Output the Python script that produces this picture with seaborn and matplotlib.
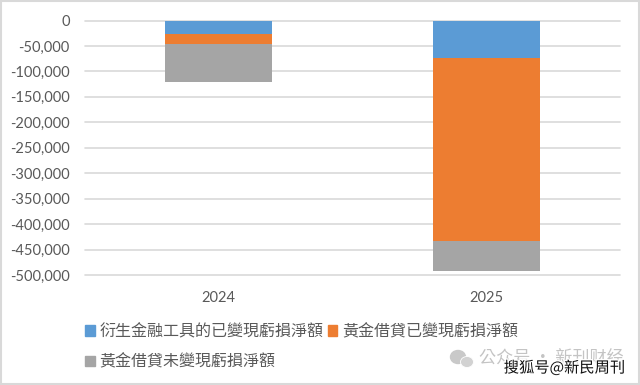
import matplotlib
matplotlib.use("Agg")
import matplotlib.pyplot as plt
from matplotlib.patches import Patch, Rectangle, Ellipse
from matplotlib import patheffects as pe
import numpy as np
import seaborn as sns

years = ["2024", "2025"]
derivative_loss = [-26000, -73000]
gold_realized = [-21000, -360000]
gold_unrealized = [-73000, -59000]
series_names = ["衍生金融工具的已變現虧損淨額", "黃金借貸已變現虧損淨額", "黃金借貸未變現虧損淨額"]
watermark_a = "公众号 · 新刊财经"
watermark_b = "搜狐号@新民周刊"
yticks = [0, -50000, -100000, -150000, -200000, -250000, -300000, -350000, -400000, -450000, -500000]

BLUE, ORANGE, GRAY = "#5B9BD5", "#ED7D31", "#A5A5A5"
TEXT = "#595959"
GRID = "#D9D9D9"

sns.set_theme(style="white")
plt.rcParams["font.family"] = ["Noto Sans CJK TC", "DejaVu Sans"]

W, H = 640, 385
fig = plt.figure(figsize=(W / 100, H / 100), dpi=100, facecolor="white")
ax = fig.add_axes([85 / W, 1 - 275 / H, 535 / W, 254.5 / H])

c1 = np.array(derivative_loss)
c2 = c1 + np.array(gold_realized)
c3 = c2 + np.array(gold_unrealized)

# Stacked bars: cumulative totals are painted from deepest to shallowest
for cum, col in zip([c3, c2, c1], [GRAY, ORANGE, BLUE]):
    sns.barplot(x=years, y=cum, color=col, width=0.4, saturation=1, ax=ax, zorder=3, linewidth=0)

ax.set_ylim(-500000, 0)
ax.set_xlim(-0.5, 1.5)
ax.set_yticks(yticks)
ax.set_yticklabels([f"{v:,}" for v in yticks], fontname="Lato", fontsize=10.5, color=TEXT)
ax.set_xticks([0, 1])
ax.set_xticklabels(years, fontname="Lato", fontsize=10.5, color=TEXT)
ax.tick_params(axis="both", length=0)
ax.tick_params(axis="y", pad=11)
ax.tick_params(axis="x", pad=11.5)
ax.set_xlabel("")
ax.set_ylabel("")
ax.grid(axis="y", color=GRID, linewidth=1.2, zorder=0, clip_on=False)
for line in ax.get_ygridlines():
    line.set_clip_on(False)
ax.set_axisbelow(True)
sns.despine(ax=ax, left=True, bottom=True, top=True, right=True)

handles = [Patch(color=BLUE), Patch(color=GRAY), Patch(color=ORANGE)]
labels = [series_names[0], series_names[2], series_names[1]]
fig.legend(handles, labels, ncols=2, frameon=False, loc="upper left",
           bbox_to_anchor=(82 / W, 1 - 320 / H), fontsize=11.5, labelcolor=TEXT,
           handlelength=0.6, handleheight=0.6, handletextpad=0.3,
           columnspacing=0.25, labelspacing=0.82, borderpad=0.2, borderaxespad=0)

# Watermarks
fig.text(479 / W, 1 - 359 / H, watermark_a, fontsize=12.3, color="#C4C4C4", va="center", ha="left")
fig.text(625 / W, 1 - 368 / H, watermark_b, fontsize=11, color="#111111", va="center", ha="right",
         path_effects=[pe.withStroke(linewidth=2, foreground="white")], zorder=5)
fig.add_artist(Ellipse((458 / W, 1 - 357 / H), 15 / W, 13 / H, color="#C9C9C9", transform=fig.transFigure))
fig.add_artist(Ellipse((467 / W, 1 - 362 / H), 13 / W, 11 / H, color="#D2D2D2", ec="white", lw=0.6, transform=fig.transFigure))

# Chart frame
fig.add_artist(Rectangle((1 / W, 1 / H), 638 / W, 383 / H, fill=False, ec=GRID, lw=1.5, transform=fig.transFigure))

fig.savefig("out.png", dpi=100)
